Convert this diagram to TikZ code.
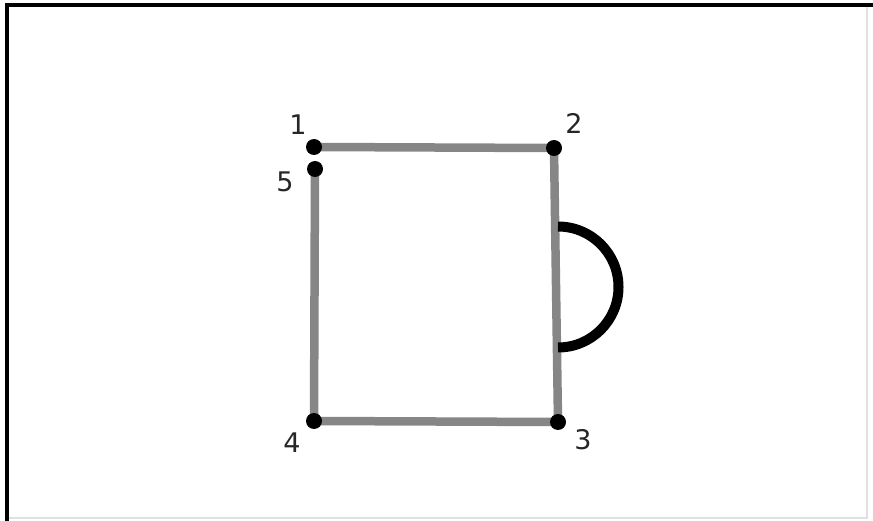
\documentclass[tikz,border=0pt]{standalone}
\usepackage{fontspec}
\setmainfont{DejaVu Sans}
\begin{document}
\begin{tikzpicture}[x=1pt,y=-1pt,
  edge/.style={draw=gray!95!white, line width=8.5pt},
  pt/.style={circle, fill=black, inner sep=0pt, minimum size=16pt},
  lbl/.style={font=\fontsize{27}{27}\selectfont, inner sep=0pt, text=black!85}]
\useasboundingbox (0,0) rectangle (873,521);
\fill[white] (0,0) rectangle (873,521);
% frame
\draw[black!12, line width=1.5pt] (867,5.5) -- (867,518) -- (7,518);
\draw[black, line width=4pt] (7,521) -- (7,5.5) -- (873,5.5);
% points
\coordinate (p1) at (314,147);
\coordinate (p2) at (554,148);
\coordinate (p3) at (558,422);
\coordinate (p4) at (314,421);
\coordinate (p5) at (315,169);
\draw[edge] (p1) -- (p2);
\draw[edge] (p2) -- (p3);
\draw[edge] (p3) -- (p4);
\draw[edge] (p4) -- (p5);
% handle
\coordinate (h1) at (558,226.5);
\draw[black, line width=10pt] (h1) arc[start angle=-90, end angle=90, radius=60.5];
% dots
\node[pt] (n1) at (p1) {};
\node[pt] (n2) at (p2) {};
\node[pt] (n3) at (p3) {};
\node[pt] (n4) at (p4) {};
\node[pt] (n5) at (p5) {};
% labels
\node[lbl] (l1) at (298,124.5) {1};
\node[lbl] (l2) at (574,123.5) {2};
\node[lbl] (l3) at (583,440) {3};
\node[lbl] (l4) at (292,443) {4};
\node[lbl] (l5) at (285,182) {5};
\end{tikzpicture}
\end{document}
